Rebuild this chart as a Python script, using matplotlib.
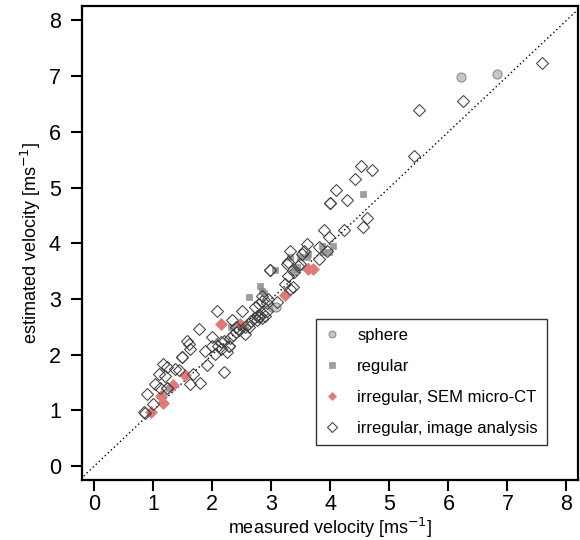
import matplotlib.pyplot as plt

plt.rcParams['font.family'] = ['Liberation Sans', 'DejaVu Sans']

# sphere
sph_x = [6.22, 6.83, 3.01, 3.08]
sph_y = [6.98, 7.03, 2.86, 2.86]

# regular
reg_x = [4.55, 4.05, 3.86, 3.60, 3.07, 2.81, 2.84, 2.87, 2.63, 2.31, 2.56,
         3.32, 3.49, 3.63, 3.88, 3.38, 3.44, 1.16, 1.26, 3.97]
reg_y = [4.88, 3.96, 3.96, 3.76, 3.52, 3.24, 3.15, 3.10, 3.03, 2.50, 2.49,
         3.75, 3.75, 3.81, 3.84, 3.48, 3.57, 1.14, 1.41, 3.84]

# irregular, SEM micro-CT
sem_x = [3.62, 3.70, 3.24, 2.47, 2.14, 1.54, 1.34, 1.13, 1.16, 0.97]
sem_y = [3.53, 3.53, 3.08, 2.55, 2.55, 1.64, 1.45, 1.26, 1.14, 0.98]

# irregular, image analysis
img_x = [7.59, 6.24, 5.50, 5.42, 4.52, 4.71, 4.41, 4.10, 3.99, 3.99, 4.29,
         4.62, 4.55, 4.23, 3.89, 3.98, 3.60, 3.80, 3.94, 3.80, 3.55, 3.32,
         3.29, 3.49, 2.97, 2.97, 3.29, 3.32, 3.10, 2.93, 2.81, 2.50, 2.08,
         2.33, 1.77, 1.57, 1.63, 1.49, 1.49, 1.99, 1.99, 2.14, 2.28, 2.28,
         2.05, 1.88, 1.91, 2.20, 1.43, 1.68, 1.63, 1.80, 1.17, 1.24, 1.09,
         1.20, 1.03, 1.12, 1.23, 1.23, 0.90, 0.99, 0.84, 0.86, 1.37, 1.60,
         2.93, 2.62, 2.56, 2.79, 2.84, 3.52, 3.27, 3.46, 3.38, 3.37, 3.24,
         2.84, 2.95, 2.73, 2.65, 2.70, 2.75, 2.80, 2.85, 2.60, 2.55, 2.45,
         2.40, 2.35, 2.30, 2.20, 2.15, 2.25, 2.10, 2.40, 2.75, 2.85, 2.90]
img_y = [7.24, 6.56, 6.40, 5.56, 5.38, 5.31, 5.15, 4.95, 4.72, 4.72, 4.77,
         4.45, 4.30, 4.24, 4.23, 4.12, 3.99, 3.94, 3.87, 3.72, 3.87, 3.87,
         3.66, 3.63, 3.52, 3.52, 3.42, 3.18, 2.94, 2.92, 2.70, 2.78, 2.78,
         2.63, 2.46, 2.25, 2.10, 1.96, 1.96, 2.31, 2.16, 2.22, 2.16, 2.16,
         2.01, 2.07, 1.82, 1.69, 1.72, 1.65, 1.47, 1.50, 1.83, 1.78, 1.65,
         1.62, 1.47, 1.41, 1.41, 1.41, 1.30, 1.11, 0.98, 0.95, 1.74, 2.19,
         2.79, 2.49, 2.37, 2.91, 3.06, 3.81, 3.63, 3.60, 3.48, 3.21, 3.27,
         2.97, 3.00, 2.85, 2.60, 2.65, 2.70, 2.68, 2.75, 2.55, 2.50, 2.45,
         2.40, 2.35, 2.30, 2.25, 2.10, 2.05, 2.15, 2.50, 2.62, 2.65, 2.70]

fig = plt.figure(figsize=(5.8, 5.4), dpi=100)
ax = fig.add_axes([0.141, 0.111, 0.856, 0.878])

ax.plot([-1, 9], [-1, 9], ls=(0, (1, 2)), color='black', lw=1.0, zorder=1)

ax.plot(sph_x, sph_y, 'o', ms=6.5, mfc='#c8c8c8', mec='#8c8c8c', mew=0.8,
        ls='none', label='sphere', zorder=2)
ax.plot(reg_x, reg_y, 's', ms=5, mfc='#8c8c8c', mec='#8c8c8c', mew=0.5,
        alpha=0.85, ls='none', label='regular', zorder=3)
ax.plot(sem_x, sem_y, 'D', ms=6, mfc='#e07a7a', mec='#e07a7a', mew=0.5,
        ls='none', label='irregular, SEM micro-CT', zorder=4)
ax.plot(img_x, img_y, 'D', ms=6.3, mfc='none', mec='#404040', mew=0.75,
        ls='none', label='irregular, image analysis', zorder=5)

ax.set_xlim(-0.21, 8.2)
ax.set_ylim(-0.25, 8.26)
ax.set_xticks(range(9))
ax.set_yticks(range(9))
ax.tick_params(direction='out', length=8, width=1.5, labelsize=15.5)
ax.tick_params(axis='x', pad=2)
ax.tick_params(axis='y', pad=7)
for s in ax.spines.values():
    s.set_linewidth(1.6)

ax.set_xlabel('measured velocity [ms$^{-1}$]', fontsize=13, labelpad=1)
ax.set_ylabel('estimated velocity [ms$^{-1}$]', fontsize=13, labelpad=4)

leg = ax.legend(loc='lower right', bbox_to_anchor=(0.937, 0.074), fontsize=12,
                frameon=True, fancybox=False, edgecolor='#333333',
                framealpha=1, markerscale=0.75, handlelength=0.8,
                handletextpad=1.1, labelspacing=0.95, borderpad=0.55,
                borderaxespad=0)
leg.get_frame().set_linewidth(1.0)

fig.savefig('out.png', dpi=100)
